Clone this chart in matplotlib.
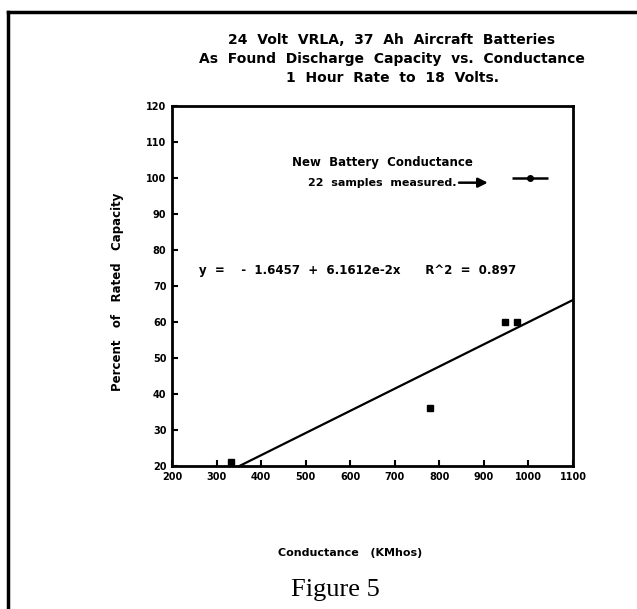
import numpy as np
import matplotlib
matplotlib.use("Agg")
import matplotlib.pyplot as plt
from matplotlib.lines import Line2D

# data
conductance = [333, 778, 948, 975]
capacity = [21, 36, 60, 60]
new_x = 1003
new_x_err = 40
new_y = 100
intercept = -1.6457
slope = 6.1612e-2
x_ticks = [200, 300, 400, 500, 600, 700, 800, 900, 1000, 1100]
y_ticks = [20, 30, 40, 50, 60, 70, 80, 90, 100, 110, 120]

W, H = 637, 609
fig = plt.figure(figsize=(W / 100, H / 100), dpi=100)
fig.patch.set_facecolor("white")

# page frame
fig.add_artist(Line2D([8 / W, 8 / W], [0, 1 - 12 / H], color="black", lw=2.5, transform=fig.transFigure))
fig.add_artist(Line2D([8 / W, 1], [1 - 12 / H, 1 - 12 / H], color="black", lw=2.5, transform=fig.transFigure))

left, right, top, bottom = 172, 573, 106, 466
ax = fig.add_axes([left / W, 1 - bottom / H, (right - left) / W, (bottom - top) / H])

ax.plot(conductance, capacity, "s", color="black", ms=5)

x0 = (20 - intercept) / slope
xs = np.array([x0, 1100])
ax.plot(xs, intercept + slope * xs, color="black", lw=1.6)

ax.errorbar([new_x], [new_y], xerr=[new_x_err], fmt="o", color="black", ms=4, lw=1.8, capsize=0)

ax.annotate("", xy=(915, 98.7), xytext=(838, 98.7),
            arrowprops=dict(arrowstyle="-|>", color="black", lw=1.8, mutation_scale=14))
ax.text(672, 104.2, "New  Battery  Conductance", ha="center", va="center", fontsize=8.5, fontweight="bold")
ax.text(672, 98.7, "22  samples  measured.", ha="center", va="center", fontsize=8, fontweight="bold")
ax.text(261, 74.4, "y  =    -  1.6457  +  6.1612e-2x      R^2  =  0.897",
        ha="left", va="center", fontsize=8.5, fontweight="bold")

ax.set_xlim(200, 1100)
ax.set_ylim(20, 120)
ax.set_xticks(x_ticks)
ax.set_yticks(y_ticks)
ax.tick_params(direction="in", length=4, width=1.5, labelsize=7, pad=4)
for lab in ax.get_xticklabels() + ax.get_yticklabels():
    lab.set_fontweight("bold")
for s in ax.spines.values():
    s.set_linewidth(2)

fig.text(392 / W, 1 - 40 / H, "24  Volt  VRLA,  37  Ah  Aircraft  Batteries", ha="center", va="center",
         fontsize=10, fontweight="bold")
fig.text(392 / W, 1 - 59 / H, "As  Found  Discharge  Capacity  vs.  Conductance", ha="center", va="center",
         fontsize=10, fontweight="bold")
fig.text(392 / W, 1 - 78 / H, "1  Hour  Rate  to  18  Volts.", ha="center", va="center",
         fontsize=10, fontweight="bold")
fig.text(118 / W, 1 - 292 / H, "Percent   of   Rated   Capacity", ha="center", va="center",
         rotation=90, fontsize=8.5, fontweight="bold")
fig.text(350 / W, 1 - 553 / H, "Conductance   (KMhos)", ha="center", va="center",
         fontsize=8, fontweight="bold")
fig.text(335 / W, 1 - 590 / H, "Figure 5", ha="center", va="center",
         fontsize=19, family="Liberation Serif")

fig.savefig("out.png", dpi=100, facecolor="white")
